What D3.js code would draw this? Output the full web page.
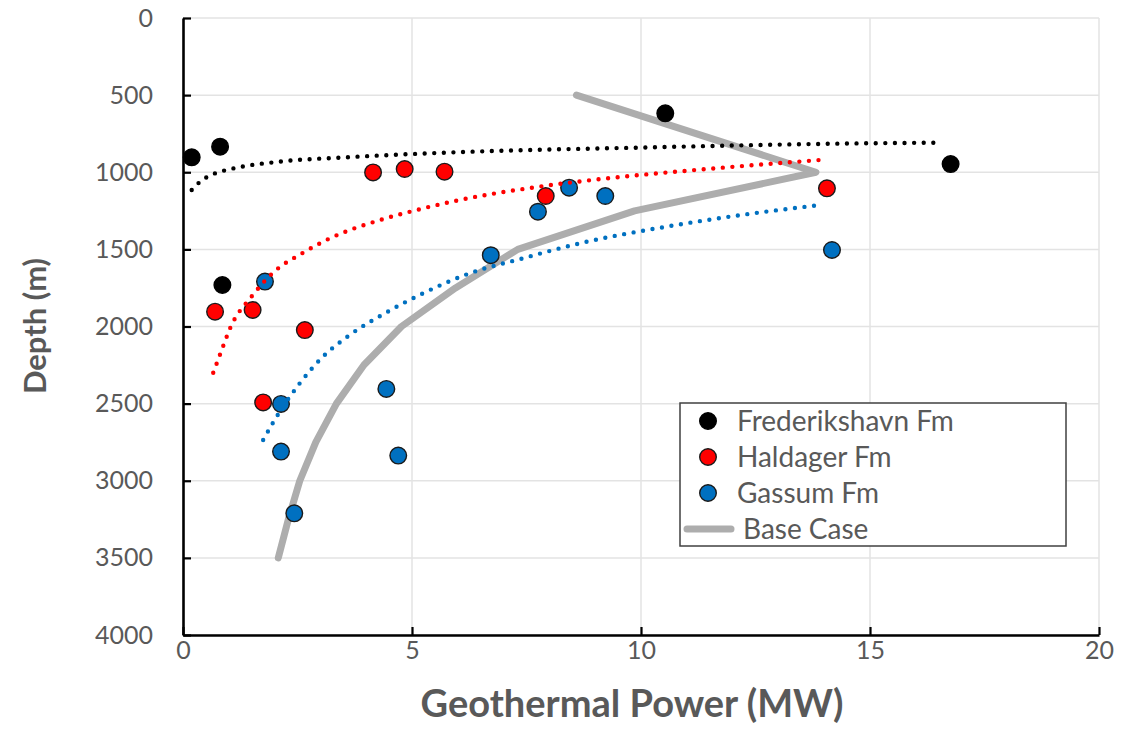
<!DOCTYPE html>
<html>
<head>
<meta charset="utf-8">
<script src="https://cdn.jsdelivr.net/npm/d3@7"></script>
<style>
  body { margin: 0; background: #fff; }
  text { font-family: Lato, "Open Sans", sans-serif; fill: #595959; }
</style>
</head>
<body>
<div id="chart"><svg width="1146" height="745"></svg></div>
<script>
// tick values
const xTicks = [0, 5, 10, 15, 20];
const yTicks = [0, 500, 1000, 1500, 2000, 2500, 3000, 3500, 4000];

// scatter data: [power MW, depth m]
const frederikshavn = [[0.19, 903], [0.81, 834], [0.86, 1731], [10.53, 618], [16.76, 947]];
const haldager = [[0.70, 1904], [1.52, 1893], [2.66, 2023], [1.75, 2492], [4.15, 1001],
  [4.84, 979], [5.71, 996], [7.92, 1154], [14.06, 1104]];
const gassum = [[1.79, 1709], [2.14, 2502], [2.14, 2811], [2.43, 3211], [4.44, 2405],
  [4.70, 2837], [6.72, 1538], [7.75, 1256], [8.43, 1100], [9.22, 1154], [14.17, 1504]];

// base case line
const baseCase = [[8.59, 500], [13.82, 1000], [9.86, 1250], [7.31, 1500], [5.95, 1750],
  [4.77, 2000], [3.95, 2250], [3.35, 2500], [2.9, 2750], [2.55, 3000], [2.3, 3250], [2.08, 3500]];

// dotted trendlines
const trendFrederikshavn = [[0.19, 1115], [0.4, 1055], [0.66, 1012], [1.06, 978], [2.12, 931],
  [3.57, 903], [5.9, 871], [10.0, 840], [14.2, 815], [16.55, 808]];
const trendHaldager = [[0.66, 2300], [0.88, 2125], [1.03, 2010], [1.5, 1805], [1.97, 1650],
  [2.62, 1522], [3.21, 1428], [4.3, 1310], [5.02, 1251], [5.97, 1184], [7.79, 1093],
  [9.97, 1018], [11.2, 985], [13.89, 921]];
const trendGassum = [[1.75, 2736], [2.0, 2606], [2.55, 2368], [3.02, 2206], [3.64, 2055],
  [4.41, 1914], [5.24, 1785], [6.26, 1655], [7.42, 1558], [8.66, 1461], [10.55, 1353],
  [12.29, 1273], [13.93, 1212]];

const seriesNames = ["Frederikshavn Fm", "Haldager Fm", "Gassum Fm", "Base Case"];

document.addEventListener("DOMContentLoaded", function () {
  const margin = { top: 18, right: 47, bottom: 110, left: 183 },
    width = 1146 - margin.left - margin.right,
    height = 745 - margin.top - margin.bottom;

  const svg = d3
    .select("#chart svg")
    .append("g")
    .attr("transform", `translate(${margin.left},${margin.top})`);

  const x = d3.scaleLinear().domain([0, 20]).range([0, width]);
  const y = d3.scaleLinear().domain([0, 4000]).range([0, height]);

  // gridlines
  svg.append("g")
    .selectAll("line")
    .data(yTicks)
    .enter()
    .append("line")
    .attr("x1", 0)
    .attr("x2", width)
    .attr("y1", (d) => y(d))
    .attr("y2", (d) => y(d))
    .style("stroke", "#e3e3e3")
    .style("stroke-width", "1.5px");

  svg.append("g")
    .selectAll("line")
    .data(xTicks.slice(1))
    .enter()
    .append("line")
    .attr("x1", (d) => x(d))
    .attr("x2", (d) => x(d))
    .attr("y1", 0)
    .attr("y2", height)
    .style("stroke", "#e3e3e3")
    .style("stroke-width", "1.5px");

  const line = d3
    .line()
    .x((d) => x(d[0]))
    .y((d) => y(d[1]));

  // base case
  svg.append("path")
    .datum(baseCase)
    .attr("d", line)
    .style("fill", "none")
    .style("stroke", "#adadad")
    .style("stroke-width", "7px")
    .style("stroke-linecap", "round")
    .style("stroke-linejoin", "round");

  // markers
  const groups = [
    { data: frederikshavn, fill: "#000000", stroke: "#000000" },
    { data: haldager, fill: "#ff0000", stroke: "#1a1a1a" },
    { data: gassum, fill: "#0070c0", stroke: "#1a1a1a" },
  ];
  groups.forEach((g) => {
    svg.append("g")
      .selectAll("circle")
      .data(g.data)
      .enter()
      .append("circle")
      .attr("cx", (d) => x(d[0]))
      .attr("cy", (d) => y(d[1]))
      .attr("r", 8.3)
      .style("fill", g.fill)
      .style("stroke", g.stroke)
      .style("stroke-width", "1.4px");
  });

  // trendlines
  const smooth = d3
    .line()
    .curve(d3.curveMonotoneX)
    .x((d) => x(d[0]))
    .y((d) => y(d[1]));
  [
    [trendFrederikshavn, "#000000"],
    [trendHaldager, "#ff0000"],
    [trendGassum, "#0070c0"],
  ].forEach(([data, color]) => {
    svg.append("path")
      .datum(data)
      .attr("d", smooth)
      .style("fill", "none")
      .style("stroke", color)
      .style("stroke-width", "4.4px")
      .style("stroke-linecap", "round")
      .style("stroke-dasharray", "0 9.6");
  });

  // axes
  const xAxis = svg.append("g")
    .attr("transform", `translate(0,${height})`)
    .call(d3.axisBottom(x).tickValues(xTicks).tickSizeInner(-8).tickSizeOuter(0).tickPadding(6));
  const yAxis = svg.append("g")
    .call(d3.axisLeft(y).tickValues(yTicks).tickFormat(d3.format("d"))
      .tickSizeInner(-8).tickSizeOuter(0).tickPadding(30));

  [xAxis, yAxis].forEach((a) => {
    a.select(".domain").style("stroke", "#000").style("stroke-width", "2.6px");
    a.selectAll(".tick line").style("stroke", "#000").style("stroke-width", "2.2px");
    a.selectAll(".tick text")
      .style("font-family", "Lato, sans-serif")
      .style("font-size", "25px")
      .style("fill", "#595959");
  });

  // axis titles
  svg.append("text")
    .attr("transform", `translate(${632 - margin.left},${height + 82})`)
    .style("text-anchor", "middle")
    .style("font-size", "38px")
    .style("font-weight", "bold")
    .text("Geothermal Power (MW)");

  svg.append("text")
    .attr("transform", "rotate(-90)")
    .attr("x", 0 - (326 - margin.top))
    .attr("y", 0 - margin.left + 46)
    .style("text-anchor", "middle")
    .style("font-size", "31px")
    .style("font-weight", "bold")
    .text("Depth (m)");

  // legend
  const legend = svg.append("g").attr("transform", `translate(${680 - margin.left},${403 - margin.top})`);
  legend.append("rect")
    .attr("width", 386)
    .attr("height", 143)
    .style("fill", "#fff")
    .style("stroke", "#404040")
    .style("stroke-width", "1.5px");

  const legendColors = [
    ["#000000", "#000000"],
    ["#ff0000", "#1a1a1a"],
    ["#0070c0", "#1a1a1a"],
  ];
  seriesNames.forEach((name, i) => {
    const cy = 18 + i * 36;
    if (i < 3) {
      legend.append("circle")
        .attr("cx", 28)
        .attr("cy", cy)
        .attr("r", 8.3)
        .style("fill", legendColors[i][0])
        .style("stroke", legendColors[i][1])
        .style("stroke-width", "1.4px");
    } else {
      legend.append("line")
        .attr("x1", 7)
        .attr("x2", 51)
        .attr("y1", cy)
        .attr("y2", cy)
        .style("stroke", "#adadad")
        .style("stroke-width", "7px")
        .style("stroke-linecap", "round");
    }
    legend.append("text")
      .attr("x", i < 3 ? 57 : 63)
      .attr("y", cy)
      .attr("dy", "0.35em")
      .style("font-size", "28px")
      .text(name);
  });
});
</script>
</body>
</html>
